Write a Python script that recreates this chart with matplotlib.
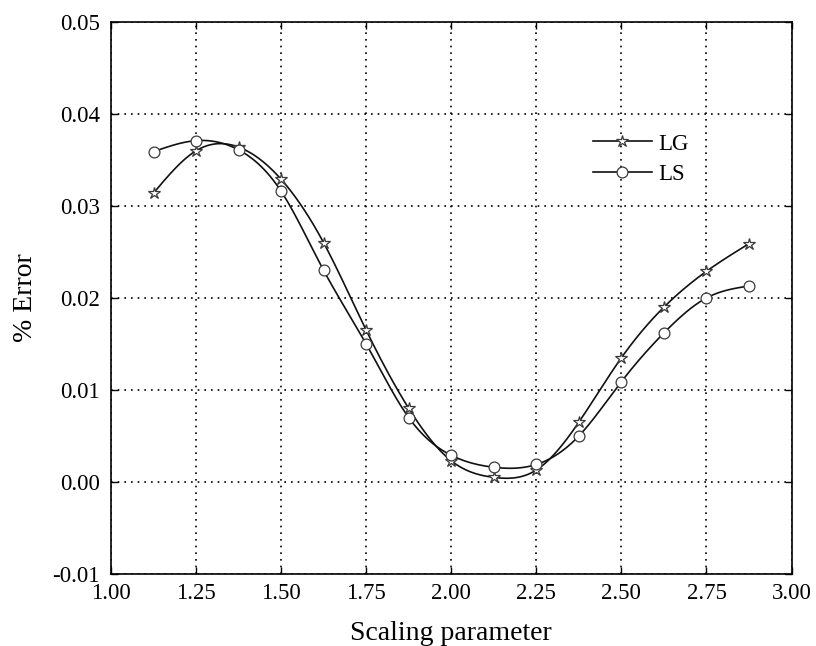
import numpy as np
import matplotlib
matplotlib.use("Agg")
import matplotlib.pyplot as plt
from matplotlib.lines import Line2D

x = [1.125, 1.25, 1.375, 1.5, 1.625, 1.75, 1.875, 2.0, 2.125, 2.25, 2.375, 2.5, 2.625, 2.75, 2.875]
lg = [0.0314, 0.0360, 0.0364, 0.0329, 0.0260, 0.0165, 0.0080, 0.0023, 0.0005, 0.0013, 0.0065, 0.0135, 0.0190, 0.0229, 0.0259]
ls = [0.0359, 0.0371, 0.0361, 0.0316, 0.0230, 0.0150, 0.0070, 0.0029, 0.0016, 0.0019, 0.0050, 0.0109, 0.0162, 0.0200, 0.0213]
xticks = [1.00, 1.25, 1.50, 1.75, 2.00, 2.25, 2.50, 2.75, 3.00]
yticks = [-0.01, 0.00, 0.01, 0.02, 0.03, 0.04, 0.05]


def natural_spline(xs, ys, n=400):
    xs = np.asarray(xs, float); ys = np.asarray(ys, float)
    m = len(xs); h = np.diff(xs)
    A = np.zeros((m, m)); b = np.zeros(m)
    A[0, 0] = 1; A[-1, -1] = 1
    for i in range(1, m - 1):
        A[i, i - 1] = h[i - 1]; A[i, i] = 2 * (h[i - 1] + h[i]); A[i, i + 1] = h[i]
        b[i] = 3 * ((ys[i + 1] - ys[i]) / h[i] - (ys[i] - ys[i - 1]) / h[i - 1])
    c = np.linalg.solve(A, b)
    xf = np.linspace(xs[0], xs[-1], n)
    idx = np.clip(np.searchsorted(xs, xf) - 1, 0, m - 2)
    dx = xf - xs[idx]
    hi = h[idx]
    bb = (ys[idx + 1] - ys[idx]) / hi - hi * (2 * c[idx] + c[idx + 1]) / 3
    dd = (c[idx + 1] - c[idx]) / (3 * hi)
    yf = ys[idx] + bb * dx + c[idx] * dx ** 2 + dd * dx ** 3
    return xf, yf


plt.rcParams['font.family'] = ['Liberation Serif', 'DejaVu Serif']
fig = plt.figure(figsize=(8.16, 6.46), dpi=100)
ax = fig.add_axes([0.1360, 0.1115, 0.834, 0.8545])

mk_style = dict(mfc='white', mec='#3a3a3a', mew=0.9)
for ys, mk, ms in [(lg, '*', 9), (ls, 'o', 7.8)]:
    xf, yf = natural_spline(x, ys)
    ax.plot(xf, yf, color='#111111', lw=1.2, zorder=3)
    ax.plot(x, ys, linestyle='none', marker=mk, ms=ms, zorder=4, **mk_style)

handles = [Line2D([0], [0], color='#111111', lw=1.2, marker='*', ms=9, **mk_style),
           Line2D([0], [0], color='#111111', lw=1.2, marker='o', ms=7.8, **mk_style)]
ax.legend(handles, ['LG', 'LS'], loc='upper left', bbox_to_anchor=(0.708, 0.798), frameon=False,
          fontsize=16.5, handlelength=2.58, handletextpad=0.26, labelspacing=0.42,
          borderpad=0, borderaxespad=0)

ax.set_xlim(1.0, 3.0)
ax.set_ylim(-0.01, 0.05)
ax.set_xticks(xticks)
ax.set_xticklabels([f"{v:.2f}" for v in xticks])
ax.set_yticks(yticks)
ax.set_yticklabels([f"{v:.2f}" for v in yticks])
ax.grid(True, color='black', linestyle=(0, (1, 3)), linewidth=1.2)
ax.tick_params(direction='in', length=5, width=1, labelsize=16.5, top=True, right=True)
ax.tick_params(axis='x', pad=6.5)
ax.tick_params(axis='y', pad=8)
for s in ax.spines.values():
    s.set_linewidth(1.2)
ax.set_xlabel('Scaling parameter', fontsize=20, labelpad=12)
ax.set_ylabel('% Error', fontsize=20, labelpad=10)

fig.savefig('out.png', dpi=100)
